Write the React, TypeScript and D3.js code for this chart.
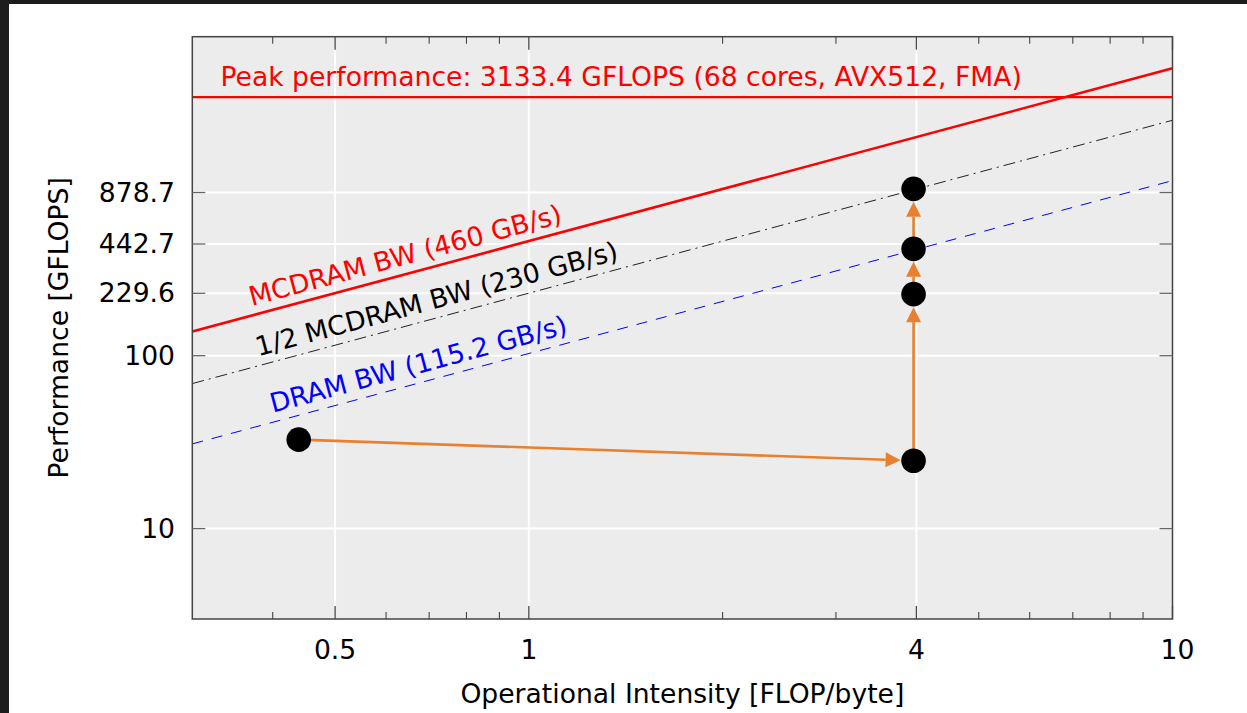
import React from "react";
import * as d3 from "d3";

// ---- data ----
const xMajorTicks = [0.5, 1, 4, 10];
const xMajorLabels = ["0.5", "1", "4", "10"];
const xMinorTicks = [0.4, 0.6, 0.7, 0.8, 0.9, 2, 3, 5, 6, 7, 8, 9];
const xGridValues = [0.5, 1, 4];
const yTicks = [10, 100, 229.6, 442.7, 878.7];
const yTickLabels = ["10", "100", "229.6", "442.7", "878.7"];
const peakPerf = 3133.4;
const peakLabel = "Peak performance: 3133.4 GFLOPS (68 cores, AVX512, FMA)";
const roofNames = ["MCDRAM BW (460 GB/s)", "1/2 MCDRAM BW (230 GB/s)", "DRAM BW (115.2 GB/s)"];
const roofBW = [460, 230, 103];
const roofLabelX = [0.371, 0.38, 0.4];
const pointsX = [0.439, 3.96, 3.96, 3.96, 3.96];
const pointsY = [32.7, 24.7, 227, 415, 923];

const W = 1247;
const H = 713;
const L = 192.3, R = 1172.5, T = 36.7, B = 619;
const FONT = "'DejaVu Sans', sans-serif";
const FS = 26.6;

export default function App() {
  const x = d3.scaleLog().domain([0.3, 10]).range([L, R]);
  const y = d3.scaleLog().domain([3, 7000]).range([B, T]);
  const xd = x.domain();

  const roofStyles = [
    { stroke: "#ff0000", width: 2.6, dash: undefined, color: "#ff0000" },
    { stroke: "#222222", width: 1, dash: "12 5 2 5", color: "#000000" },
    { stroke: "#0000ff", width: 1, dash: "11 9", color: "#0000ff" },
  ];

  const line = d3.line<[number, number]>().x((d) => x(d[0])).y((d) => y(d[1]));

  const pts = pointsX.map((v, i) => [x(v), y(pointsY[i])]);
  const arrows = pts.slice(1).map((p, i) => {
    const s = pts[i];
    const dx = p[0] - s[0], dy = p[1] - s[1];
    const len = Math.hypot(dx, dy);
    const ux = dx / len, uy = dy / len;
    const tip = [p[0] - ux * 13, p[1] - uy * 13];
    const base = [tip[0] - ux * 15, tip[1] - uy * 15];
    const px = -uy, py = ux;
    const hw = 7.5;
    return {
      x1: s[0], y1: s[1], x2: base[0], y2: base[1],
      poly: `${tip[0]},${tip[1]} ${base[0] + px * hw},${base[1] + py * hw} ${base[0] - px * hw},${base[1] - py * hw}`,
    };
  });

  const orange = "#e8802f";

  return (
    <div style={{ position: "absolute", left: 0, top: 0 }}>
      <svg width={W} height={H} style={{ display: "block" }}>
        <rect x={0} y={0} width={W} height={H} fill="#1c1c1c" />
        <rect x={9} y={4} width={W - 9} height={H - 4} fill="#ffffff" />
        <defs>
          <clipPath id="plotclip">
            <rect x={L} y={T} width={R - L} height={B - T} />
          </clipPath>
        </defs>
        <rect x={L} y={T} width={R - L} height={B - T} fill="#ececec" />
        {/* grid */}
        {xGridValues.map((v) => (
          <line key={"gx" + v} x1={x(v)} x2={x(v)} y1={T} y2={B} stroke="#ffffff" strokeWidth={2} />
        ))}
        {yTicks.map((v) => (
          <line key={"gy" + v} x1={L} x2={R} y1={y(v)} y2={y(v)} stroke="#ffffff" strokeWidth={2} />
        ))}
        {/* roofs */}
        <g clipPath="url(#plotclip)">
          <line x1={L} x2={R} y1={y(peakPerf)} y2={y(peakPerf)} stroke="#ff0000" strokeWidth={2.2} />
          {roofBW.map((bw, i) => (
            <path
              key={"roof" + i}
              d={line([[xd[0], bw * xd[0]], [xd[1], bw * xd[1]]]) || ""}
              fill="none"
              stroke={roofStyles[i].stroke}
              strokeWidth={roofStyles[i].width}
              strokeDasharray={roofStyles[i].dash}
            />
          ))}
        </g>
        {/* roof labels */}
        <text x={220.5} y={y(peakPerf) - 11.5} fill="#ff0000" fontFamily={FONT} fontSize={FS}>
          {peakLabel}
        </text>
        {roofBW.map((bw, i) => {
          const lx = roofLabelX[i];
          const ax = x(lx);
          const ay = y(bw * lx) - 9.5;
          const ang = (Math.atan2(y(bw * 10) - y(bw * 1), x(10) - x(1)) * 180) / Math.PI;
          return (
            <text
              key={"rl" + i}
              x={ax}
              y={ay}
              transform={`rotate(${ang},${ax},${ay})`}
              fill={roofStyles[i].color}
              fontFamily={FONT}
              fontSize={FS}
            >
              {roofNames[i]}
            </text>
          );
        })}
        {/* arrows */}
        {arrows.map((a, i) => (
          <g key={"ar" + i}>
            <line x1={a.x1} y1={a.y1} x2={a.x2} y2={a.y2} stroke={orange} strokeWidth={2.6} />
            <polygon points={a.poly} fill={orange} />
          </g>
        ))}
        {/* points */}
        {pts.map((p, i) => (
          <circle key={"pt" + i} cx={p[0]} cy={p[1]} r={12.3} fill="#000000" />
        ))}
        {/* frame */}
        <rect x={L} y={T} width={R - L} height={B - T} fill="none" stroke="#444444" strokeWidth={1.5} />
        {/* x ticks */}
        {xMajorTicks.map((v) => (
          <g key={"xt" + v}>
            <line x1={x(v)} x2={x(v)} y1={B} y2={B - 13} stroke="#444444" strokeWidth={1.3} />
            <line x1={x(v)} x2={x(v)} y1={T} y2={T + 13} stroke="#444444" strokeWidth={1.3} />
          </g>
        ))}
        {xMinorTicks.map((v) => (
          <g key={"xm" + v}>
            <line x1={x(v)} x2={x(v)} y1={B} y2={B - 7} stroke="#444444" strokeWidth={1.1} />
            <line x1={x(v)} x2={x(v)} y1={T} y2={T + 7} stroke="#444444" strokeWidth={1.1} />
          </g>
        ))}
        {xMajorTicks.map((v, i) => (
          <text key={"xl" + v} x={x(v) + (i === 3 ? 5 : 0)} y={659} textAnchor="middle" fontFamily={FONT} fontSize={FS} fill="#000">
            {xMajorLabels[i]}
          </text>
        ))}
        {/* y ticks */}
        {yTicks.map((v, i) => (
          <g key={"yt" + v}>
            <line x1={L} x2={L + 13} y1={y(v)} y2={y(v)} stroke="#666666" strokeWidth={1.3} />
            <line x1={R} x2={R - 13} y1={y(v)} y2={y(v)} stroke="#666666" strokeWidth={1.3} />
            <text x={175} y={y(v) + 9} textAnchor="end" fontFamily={FONT} fontSize={FS} fill="#000">
              {yTickLabels[i]}
            </text>
          </g>
        ))}
        {/* axis titles */}
        <text x={(L + R) / 2} y={703} textAnchor="middle" fontFamily={FONT} fontSize={FS} fill="#000">
          Operational Intensity [FLOP/byte]
        </text>
        <text
          x={68}
          y={(T + B) / 2}
          transform={`rotate(-90,68,${(T + B) / 2})`}
          textAnchor="middle"
          fontFamily={FONT}
          fontSize={FS}
          fill="#000"
        >
          Performance [GFLOPS]
        </text>
      </svg>
    </div>
  );
}
